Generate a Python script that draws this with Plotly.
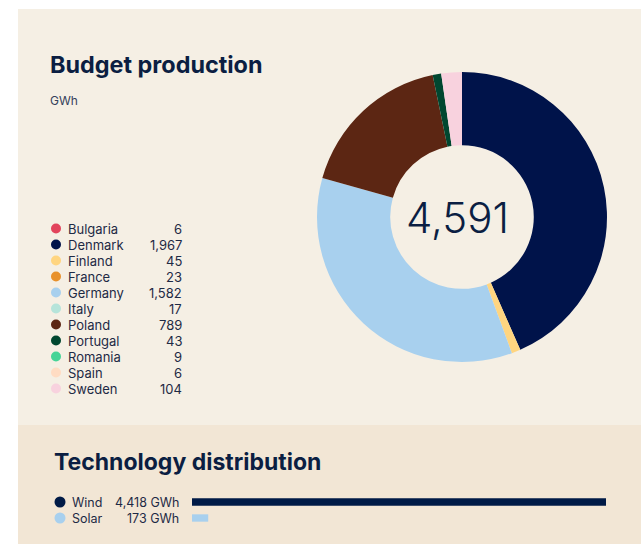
import plotly.graph_objects as go

# --- data -----------------------------------------------------------------
countries = ["Bulgaria", "Denmark", "Finland", "France", "Germany", "Italy",
             "Poland", "Portugal", "Romania", "Spain", "Sweden"]
production_gwh = [6, 1967, 45, 23, 1582, 17, 789, 43, 9, 6, 104]
country_colors = ["#E2445C", "#00134A", "#FFD580", "#E8912B", "#A8D0EE", "#B6E4DA",
                  "#5C2613", "#004730", "#45D497", "#FFDCC3", "#F8D2DE"]

technologies = ["Wind", "Solar"]
technology_gwh = [4418, 173]
technology_colors = ["#001A46", "#A8D0EE"]

# slices below this share of the total are left out of the ring
MIN_SLICE_SHARE = 0.0075

# --- style ------------------------------------------------------------------
W, H = 641, 544
NAVY = "#0B1E42"
TEXT = "#1E2A45"
CARD_TOP = "#F5EFE4"
CARD_BOTTOM = "#F2E6D5"
FONT = "Inter"

total = sum(production_gwh)
ring = [(c, v, col) for c, v, col in zip(countries, production_gwh, country_colors)
        if v / total >= MIN_SLICE_SHARE]

fig = go.Figure()

# donut
cx, cy, r_out = 462, 217, 145
fig.add_trace(go.Pie(
    labels=[c for c, _, _ in ring],
    values=[v for _, v, _ in ring],
    marker=dict(colors=[col for _, _, col in ring], line=dict(width=0)),
    hole=0.495,
    sort=False,
    direction="clockwise",
    rotation=0,
    textinfo="none",
    showlegend=False,
    domain=dict(x=[(cx - r_out) / W, (cx + r_out) / W],
                y=[(H - cy - r_out) / H, (H - cy + r_out) / H]),
))

# technology bars
bar_x0, bar_x1 = 192, 606
row_y0, row_step = 502, 16
y_top = row_y0 - row_step / 2
y_bot = row_y0 + row_step * (len(technologies) - 1) + row_step / 2
fig.add_trace(go.Bar(
    x=technology_gwh,
    y=list(range(len(technologies)))[::-1],
    orientation="h",
    marker=dict(color=technology_colors, line=dict(width=0)),
    width=0.46,
    xaxis="x2", yaxis="y2",
    showlegend=False,
))

# legend dots for countries and technologies (pixel overlay axis)
leg_x, leg_y0, leg_step = 56, 228.5, 16
fig.add_trace(go.Scatter(
    x=[leg_x] * len(countries),
    y=[leg_y0 + i * leg_step for i in range(len(countries))],
    mode="markers",
    marker=dict(size=10, color=country_colors, line=dict(width=0)),
    xaxis="x3", yaxis="y3", showlegend=False, hoverinfo="skip",
))
fig.add_trace(go.Scatter(
    x=[60] * len(technologies),
    y=[row_y0 + i * row_step for i in range(len(technologies))],
    mode="markers",
    marker=dict(size=11, color=technology_colors, line=dict(width=0)),
    xaxis="x3", yaxis="y3", showlegend=False, hoverinfo="skip",
))

ann = []


def text(x, y, s, size, color=TEXT, anchor="left", weight=400, family=FONT):
    ann.append(dict(x=x, y=y, xref="x3", yref="y3", text=s, showarrow=False,
                    xanchor=anchor, yanchor="middle",
                    font=dict(family=family, size=size, color=color, weight=weight)))


text(48, 64, "Budget production", 23.4, NAVY, weight=700)
text(48, 100, "GWh", 12, "#34405A")
for i, (c, v) in enumerate(zip(countries, production_gwh)):
    y = leg_y0 + i * leg_step
    text(66, y, c, 13)
    text(184, y, f"{v:,}", 13, anchor="right")

text(cx - 5, cy, f"{total:,}", 42, NAVY, anchor="center", weight=300)

text(52, 462, "Technology distribution", 23, NAVY, weight=700)
for i, (t, v) in enumerate(zip(technologies, technology_gwh)):
    y = row_y0 + i * row_step
    text(70, y, t, 12.5)
    text(181, y, f"{v:,} GWh", 12.5, anchor="right")

fig.update_layout(
    width=W, height=H,
    margin=dict(l=0, r=0, t=0, b=0),
    paper_bgcolor="white",
    plot_bgcolor="rgba(0,0,0,0)",
    annotations=ann,
    shapes=[
        dict(type="rect", xref="paper", yref="paper", layer="below",
             x0=18 / W, x1=1, y0=1 - 425 / H, y1=1 - 9 / H,
             fillcolor=CARD_TOP, line=dict(width=0)),
        dict(type="rect", xref="paper", yref="paper", layer="below",
             x0=18 / W, x1=1, y0=0, y1=1 - 425 / H,
             fillcolor=CARD_BOTTOM, line=dict(width=0)),
    ],
    xaxis2=dict(domain=[bar_x0 / W, bar_x1 / W], range=[0, max(technology_gwh)],
                visible=False, fixedrange=True),
    yaxis2=dict(domain=[(H - y_bot) / H, (H - y_top) / H],
                range=[-0.5, len(technologies) - 0.5],
                visible=False, fixedrange=True),
    xaxis3=dict(domain=[0, 1], range=[0, W], visible=False, fixedrange=True),
    yaxis3=dict(domain=[0, 1], range=[H, 0], visible=False, fixedrange=True),
    xaxis=dict(visible=False), yaxis=dict(visible=False),
)

fig.write_html("out.html")
